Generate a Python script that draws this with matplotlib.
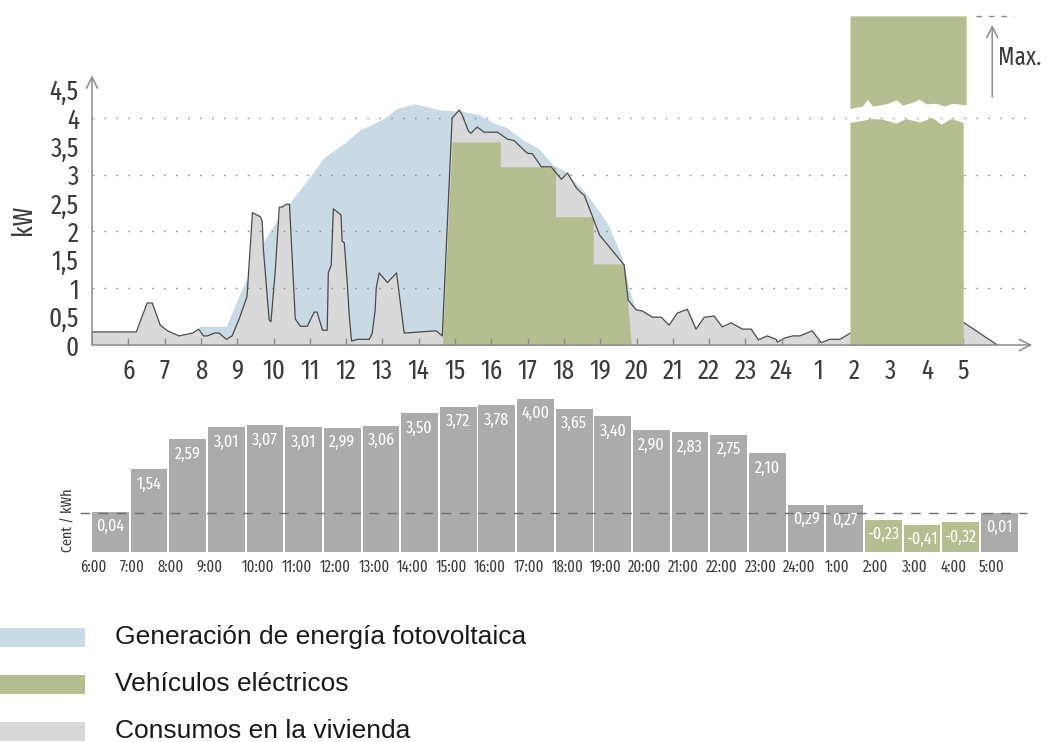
import matplotlib.pyplot as plt
from matplotlib.patches import Rectangle
import numpy as np

# colours
blue = '#c9dae4'
green = '#b5be91'
grey = '#d9d9d9'
bar_grey = '#ababab'
axis_c = '#8c8c8c'
text_c = '#3c3c3c'
narrow = ['Fira Sans Extra Condensed', 'Fira Sans Condensed', 'DejaVu Sans']

# PV generation (kW) over the day, hours 6..29 = 6:00 .. 5:00 next day
pv_hours = [7.95, 7.96, 8.7, 9.0, 9.35, 9.7, 10.1, 10.5, 11.0, 11.4, 12.0, 12.4, 12.7, 13.1,
            13.4, 13.9, 14.3, 14.6, 15.2, 15.7, 16.1, 16.4, 16.9, 17.3, 17.7, 18.0, 18.6,
            19.2, 19.6, 19.8, 20.0, 20.3]
pv_kw = [0, 0.33, 0.33, 0.8, 1.3, 1.8, 2.2, 2.55, 2.96, 3.31, 3.58, 3.8, 3.88, 4.02,
         4.17, 4.25, 4.19, 4.14, 4.12, 4.05, 3.9, 3.84, 3.6, 3.47, 3.17, 3.08, 2.68,
         2.15, 1.55, 0.97, 0.6, 0]

# total consumption (house + EV)
load_hours = [5.0, 5.0, 6.22, 6.52, 6.66, 6.88, 7.08, 7.4, 7.77, 7.94,
              8.07, 8.18, 8.37, 8.5, 8.7, 8.86, 9.06, 9.27, 9.42, 9.64,
              9.69, 9.72, 9.88, 9.93, 10.05, 10.16, 10.24, 10.35, 10.44, 10.6,
              10.74, 10.93, 11.12, 11.2, 11.35, 11.48, 11.51, 11.59, 11.65, 11.86,
              11.89, 11.95, 12.03, 12.09, 12.15, 12.32, 12.64, 12.72, 12.8, 12.83,
              12.91, 13.14, 13.39, 13.6, 14.48, 14.65, 14.92, 15.12, 15.2, 15.37,
              15.44, 15.61, 15.8, 16.17, 16.44, 16.63, 16.99, 17.13, 17.38, 17.65,
              17.93, 18.1, 18.34, 18.48, 18.56, 18.79, 18.98, 19.66, 19.77, 19.99,
              20.16, 20.44, 20.68, 20.9, 21.12, 21.4, 21.64, 21.87, 22.14, 22.36,
              22.61, 22.92, 23.16, 23.36, 23.6, 23.85, 23.88, 24.07, 24.3, 24.5,
              24.84, 25.09, 25.31, 25.61, 25.89, 26.5, 27.5, 28.5, 29.03, 29.94]
load_kw = [0, 0.23, 0.23, 0.74, 0.74, 0.35, 0.25, 0.16, 0.21, 0.28,
           0.16, 0.16, 0.21, 0.21, 0.1, 0.16, 0.47, 0.85, 2.33, 2.26,
           2.17, 1.7, 0.44, 0.41, 1.32, 2.43, 2.43, 2.48, 2.48, 0.46,
           0.33, 0.33, 0.58, 0.58, 0.26, 0.26, 1.27, 1.41, 2.4, 2.29,
           1.83, 1.8, 1.11, 0.49, 0.07, 0.1, 0.1, 0.21, 0.61, 1.0,
           1.27, 1.1, 1.27, 0.21, 0.25, 0.16, 4.0, 4.14, 4.05, 3.77,
           3.73, 3.84, 3.75, 3.75, 3.63, 3.6, 3.38, 3.37, 3.14, 3.14,
           2.92, 3.03, 2.77, 2.68, 2.64, 2.26, 1.94, 1.41, 0.79, 0.62,
           0.6, 0.49, 0.49, 0.35, 0.56, 0.63, 0.28, 0.49, 0.51, 0.32,
           0.39, 0.28, 0.28, 0.09, 0.16, 0.1, 0.05, 0.12, 0.16, 0.16,
           0.25, 0.04, 0.1, 0.1, 0.21, 0.3, 0.35, 0.38, 0.39, 0]

# EV charging in the afternoon
ev_day_hours = [14.65, 14.92, 16.25, 16.25, 17.77, 17.77, 18.81, 18.81, 19.66, 19.86]
ev_day_kw = [0, 3.58, 3.58, 3.14, 3.14, 2.26, 2.26, 1.43, 1.43, 0]

# EV charging at night at max power (broken bar)
ev_max_kw = 5.8
break_hi_hours = [25.88, 26.22, 26.36, 26.5, 26.88, 27.16, 27.33, 27.57, 27.79, 27.98, 28.26, 28.48, 28.7, 29.08]
break_hi_kw = [4.17, 4.21, 4.33, 4.21, 4.25, 4.32, 4.23, 4.27, 4.33, 4.25, 4.26, 4.21, 4.26, 4.23]
break_lo_hours = [25.88, 26.22, 26.46, 26.77, 27.15, 27.42, 27.79, 28.15, 28.39, 28.66, 29.0]
break_lo_kw = [3.92, 3.96, 3.99, 3.98, 3.91, 3.99, 3.93, 4.01, 3.89, 3.99, 3.92]

hour_ticks = list(range(6, 30))
hour_labels = [str(h if h <= 24 else h - 24) for h in hour_ticks]
kw_ticks = [0, 0.5, 1, 1.5, 2, 2.5, 3, 3.5, 4, 4.5]
kw_labels = ['0', '0,5', '1', '1,5', '2', '2,5', '3', '3,5', '4', '4,5']
grid_levels = [1, 2, 3, 4]

# hourly price (cent / kWh)
price_labels = ['6:00', '7:00', '8:00', '9:00', '10:00', '11:00', '12:00', '13:00', '14:00',
                '15:00', '16:00', '17:00', '18:00', '19:00', '20:00', '21:00', '22:00',
                '23:00', '24:00', '1:00', '2:00', '3:00', '4:00', '5:00']
prices = [0.04, 1.54, 2.59, 3.01, 3.07, 3.01, 2.99, 3.06, 3.50, 3.72, 3.78, 4.00,
          3.65, 3.40, 2.90, 2.83, 2.75, 2.10, 0.29, 0.27, -0.23, -0.41, -0.32, 0.01]
price_floor = -1.37

legend_labels = ['Generación de energía fotovoltaica', 'Vehículos eléctricos', 'Consumos en la vivienda']
legend_colors = [blue, green, grey]

W, H = 1050, 742
fig = plt.figure(figsize=(W / 100, H / 100), dpi=100)

# ---- top chart ----
px_hour = 36.3
px_kw = 56.75
ax = fig.add_axes([92 / W, 1 - 345 / H, (W - 92) / W, 345 / H])
ax.set_xlim(5, 5 + (W - 92) / px_hour)
ax.set_ylim(0, 345 / px_kw)
for s in ax.spines.values():
    s.set_visible(False)
ax.set_axisbelow(False)

ax.fill_between(pv_hours, pv_kw, color=blue, lw=0, zorder=1)
ax.fill_between(load_hours, load_kw, color=grey, lw=0, zorder=1.2)
ax.hlines(grid_levels, 5, 30.75, colors='#8f8f8f', linestyles=(0, (1.2, 7.4)), lw=1, zorder=1.5)
ax.fill_between(ev_day_hours, ev_day_kw, color=green, lw=0, zorder=2)
ax.plot(load_hours, load_kw, color='#4a4a4a', lw=0.9, zorder=2.2)
ax.fill_between(break_lo_hours, break_lo_kw, color=green, lw=0, zorder=2.6)
ax.fill_between(break_hi_hours, break_hi_kw, ev_max_kw, color=green, lw=0, zorder=2.6)

arrow = dict(arrowstyle='->,head_length=0.5,head_width=0.25', color=axis_c, lw=1.1,
             shrinkA=0, shrinkB=0, mutation_scale=16)
ax.annotate('', xy=(5, 4.75), xytext=(5, 0), arrowprops=arrow, annotation_clip=False)
ax.annotate('', xy=(30.9, 0), xytext=(5, 0), arrowprops=arrow, annotation_clip=False)

# max marker
ax.plot([29.36, 30.41], [ev_max_kw, ev_max_kw], color=axis_c, lw=1, dashes=(4, 5))
ax.annotate('', xy=(29.8, 5.64), xytext=(29.8, 4.37), arrowprops=arrow)
ax.text(29.97, 5.06, 'Max.', family=narrow, fontsize=18, color=text_c, va='center', ha='left')

ax.set_xticks(hour_ticks, hour_labels)
ax.tick_params(axis='x', direction='in', length=5, width=1, color=axis_c, pad=9,
               labelsize=19.5, labelcolor=text_c)
ax.set_yticks(kw_ticks, kw_labels)
ax.tick_params(axis='y', length=0, pad=9.5, labelsize=19.5, labelcolor=text_c)
for lbl in ax.get_xticklabels() + ax.get_yticklabels():
    lbl.set_family(narrow)
fig.text(23 / W, 1 - 220 / H, 'kW', rotation=90, ha='center', va='center',
         family=narrow, fontsize=19.5, color=text_c)

# ---- price bars ----
px_bar = 38.65
px_cent = 28.5
bx = fig.add_axes([92 / W, 1 - 552 / H, 24 * px_bar / W, 157 / H])
bx.set_xlim(0, 24)
bx.set_ylim(price_floor, price_floor + 157 / px_cent)
for s in bx.spines.values():
    s.set_visible(False)
pos = np.arange(len(prices))
colors = [green if p < 0 else bar_grey for p in prices]
bx.bar(pos, np.array(prices) - price_floor, bottom=price_floor, width=0.95, align='edge',
       color=colors, lw=0)
for i, p in enumerate(prices):
    bx.text(i + 0.475, p - 0.52, f'{p:.2f}'.replace('.', ','), ha='center', va='center',
            color='white', fontsize=12.5, family=narrow)
bx.plot([-0.31, 24.2], [0, 0], color='#707070', lw=1, dashes=(7, 6), clip_on=False, zorder=3)
tick_pos = [i + (0.3 if len(l) == 5 else (0.28 if i > 17 else 0.03)) for i, l in enumerate(price_labels)]
bx.set_xticks(tick_pos, price_labels)
bx.set_yticks([])
bx.tick_params(axis='x', length=0, pad=5, labelsize=11.5, labelcolor=text_c)
for lbl in bx.get_xticklabels():
    lbl.set_family(narrow)
fig.text(68 / W, 1 - 520 / H, 'Cent / kWh', rotation=90, ha='center', va='center',
         family=narrow, fontsize=11, color=text_c)

# ---- legend ----
for k, (lab, col) in enumerate(zip(legend_labels, legend_colors)):
    yc = 637 + 47 * k
    fig.add_artist(Rectangle((0, 1 - (yc + 9.5) / H), 85 / W, 19 / H, transform=fig.transFigure,
                             color=col, lw=0))
    fig.text(115 / W, 1 - yc / H, lab, va='center', ha='left', family=['Liberation Sans', 'DejaVu Sans'],
             fontsize=19, color='#1a1a1a')

fig.savefig('out.png', dpi=100)
